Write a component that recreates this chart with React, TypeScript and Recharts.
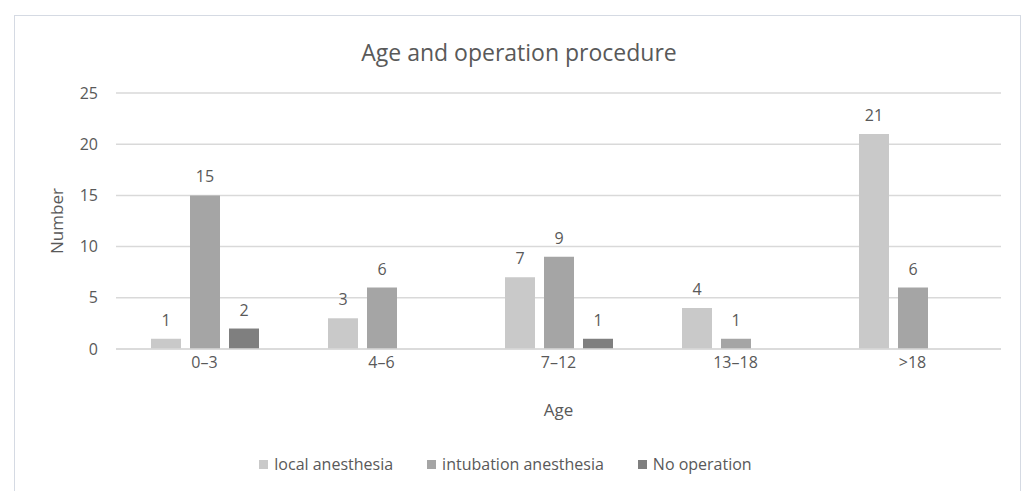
import React from 'react';
import { BarChart, Bar, XAxis, YAxis, CartesianGrid, Legend, LabelList } from 'recharts';

const categories = ['0–3', '4–6', '7–12', '13–18', '>18'];
const localAnesthesia = [1, 3, 7, 4, 21];
const intubationAnesthesia = [15, 6, 9, 1, 6];
const noOperation: (number | null)[] = [2, null, 1, null, null];
const yTicks = [0, 5, 10, 15, 20, 25];

const seriesNames = ['local anesthesia', 'intubation anesthesia', 'No operation'];
const seriesColors = ['#C9C9C9', '#A5A5A5', '#7F7F7F'];

const data = categories.map((c, i) => ({
  age: c,
  local: localAnesthesia[i],
  intubation: intubationAnesthesia[i],
  none: noOperation[i],
}));

const FONT = '"Open Sans", sans-serif';
const TXT = '#595959';

const renderLegend = () => (
  <div style={{ display: 'flex', justifyContent: 'center', alignItems: 'center', height: 30, fontFamily: FONT, fontSize: 16, color: TXT, paddingLeft: 10 }}>
    {seriesNames.map((n, i) => (
      <div key={n} style={{ display: 'flex', alignItems: 'center', marginRight: i < 2 ? 34 : 0 }}>
        <span style={{ display: 'inline-block', width: 9, height: 9, background: seriesColors[i], marginRight: 6 }} />
        <span>{n}</span>
      </div>
    ))}
  </div>
);

export default function App() {
  return (
    <div style={{ position: 'absolute', left: 0, top: 0, width: 1030, height: 491, background: '#fff' }}>
      <div style={{ position: 'absolute', left: 14, top: 15, width: 1007, height: 500, border: '1px solid #D5DAE3', boxSizing: 'border-box' }} />
      <div style={{ position: 'absolute', left: 0, top: 36, width: 1030, textAlign: 'center', fontFamily: FONT, fontSize: 23, color: TXT, paddingLeft: 8, boxSizing: 'border-box' }}>
        Age and operation procedure
      </div>
      <div style={{ position: 'absolute', left: 0, top: 0 }}>
        <BarChart
          width={1030}
          height={491}
          data={data}
          margin={{ top: 93, right: 29, left: 0, bottom: 42 }}
          barSize={30}
          barGap={9}
        >
          <CartesianGrid vertical={false} stroke="#D9D9D9" strokeWidth={1.5} />
          <XAxis
            dataKey="age"
            height={70}
            axisLine={{ stroke: '#D9D9D9', strokeWidth: 1.5 }}
            tickLine={false}
            tickSize={0}
            tickMargin={8}
            tick={{ fill: TXT, fontSize: 16, fontFamily: FONT }}
            label={{ value: 'Age', position: 'insideBottom', offset: 3, fill: TXT, fontSize: 17, fontFamily: FONT }}
          />
          <YAxis
            width={116}
            domain={[0, 25]}
            ticks={yTicks}
            axisLine={false}
            tickLine={false}
            tickSize={0}
            tickMargin={18}
            tick={{ fill: TXT, fontSize: 16, fontFamily: FONT }}
            label={{ value: 'Number', angle: -90, position: 'insideLeft', offset: 57, fill: TXT, fontSize: 17, fontFamily: FONT, style: { textAnchor: 'middle' } }}
          />
          <Legend verticalAlign="bottom" content={renderLegend} wrapperStyle={{ bottom: 12 }} />
          <Bar dataKey="local" name={seriesNames[0]} fill={seriesColors[0]} isAnimationActive={false}>
            <LabelList dataKey="local" position="top" offset={13} style={{ fill: TXT, fontSize: 16, fontFamily: FONT }} />
          </Bar>
          <Bar dataKey="intubation" name={seriesNames[1]} fill={seriesColors[1]} isAnimationActive={false}>
            <LabelList dataKey="intubation" position="top" offset={13} style={{ fill: TXT, fontSize: 16, fontFamily: FONT }} />
          </Bar>
          <Bar dataKey="none" name={seriesNames[2]} fill={seriesColors[2]} isAnimationActive={false}>
            <LabelList dataKey="none" position="top" offset={13} style={{ fill: TXT, fontSize: 16, fontFamily: FONT }} />
          </Bar>
        </BarChart>
      </div>
    </div>
  );
}
